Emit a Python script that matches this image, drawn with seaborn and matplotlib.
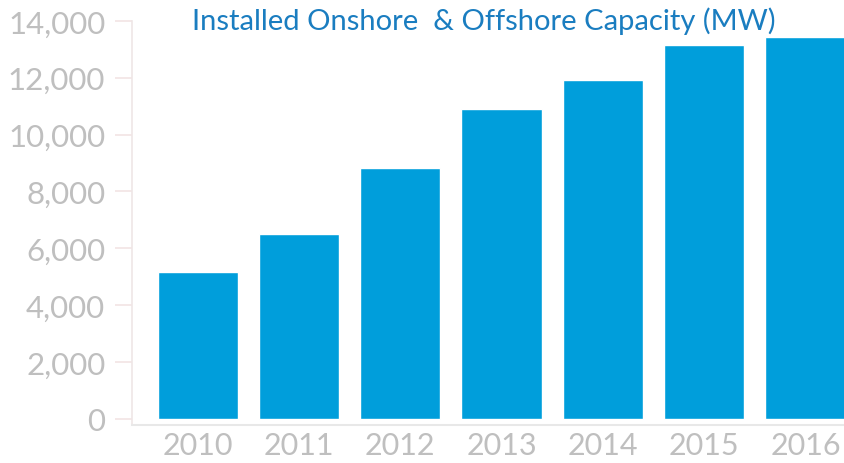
import matplotlib
matplotlib.use("Agg")
import matplotlib.pyplot as plt
import seaborn as sns
import pandas as pd

years = ["2010", "2011", "2012", "2013", "2014", "2015", "2016"]
capacity = [5170, 6510, 8830, 10900, 11920, 13160, 13440]
yticks = [0, 2000, 4000, 6000, 8000, 10000, 12000, 14000]

sns.set_style("white")
plt.rcParams['font.family'] = ['Lato', 'DejaVu Sans']

df = pd.DataFrame({"year": years, "mw": capacity})

fig = plt.figure(figsize=(8.44, 4.64), dpi=100)
ax = fig.add_axes([0.156, 0.082, 0.844, 0.871])
sns.barplot(data=df, x="year", y="mw", color="#009EDB", saturation=1,
            width=0.79, ax=ax)

ax.set_xlim(-0.65, 6.38)
ax.set_ylim(-210, 14000)
ax.set_yticks(yticks)
ax.set_yticklabels([f"{v:,}" for v in yticks])
ax.set_xlabel("")
ax.set_ylabel("")

for s in ["top", "right"]:
    ax.spines[s].set_visible(False)
ax.spines["left"].set_color("#EFE6E6")
ax.spines["bottom"].set_color("#E8E8E8")
ax.spines["left"].set_linewidth(1.2)
ax.spines["bottom"].set_linewidth(1.5)

ax.tick_params(axis="y", length=12, width=1.2, color="#F2E4E4",
               labelsize=22.5, labelcolor="#BFBFBF", pad=7, direction="out",
               left=True)
ax.tick_params(axis="x", length=0, labelsize=22, labelcolor="#BFBFBF", pad=4)

fig.text(0.573, 0.955, "Installed Onshore  & Offshore Capacity (MW)",
         ha="center", va="center", fontsize=21, color="#1A7DC0")

fig.savefig("out.png", dpi=100)
